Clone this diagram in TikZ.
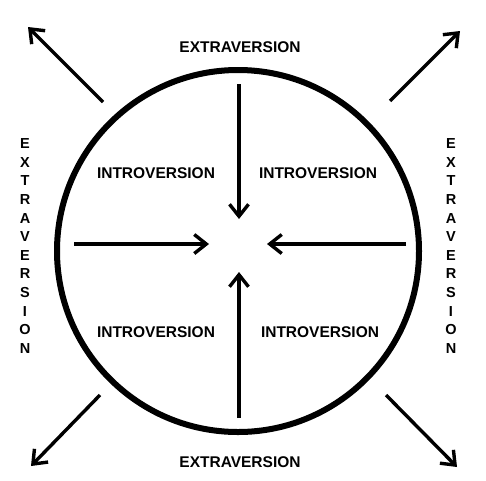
\documentclass[tikz,border=0pt]{standalone}
\usepackage{fontspec}
\setmainfont{Liberation Sans}
\usetikzlibrary{arrows.meta}

\tikzset{
  ring/.style={line width=6pt},
  push/.style={line width=3.4pt, -{Straight Barb[length=12pt,width=19pt,line width=3.4pt]}},
  word/.style={inner sep=0pt, font=\bfseries\fontsize{15.5}{18}\selectfont},
  upword/.style={inner sep=0pt, align=center, font=\bfseries\fontsize{14.5}{18.6}\selectfont}
}

\begin{document}
\begin{tikzpicture}[x=1pt,y=-1pt]
\useasboundingbox (0,0) rectangle (486,480);

\draw[ring] (238,251) circle (181);

% labels
\node[word] (extT) at (240,47) {EXTRAVERSION};
\node[word] (extB) at (240,462.5) {EXTRAVERSION};
\node[upword] (extL) at (25,246) {E\\X\\T\\R\\A\\V\\E\\R\\S\\I\\O\\N};
\node[upword] (extR) at (451,246) {E\\X\\T\\R\\A\\V\\E\\R\\S\\I\\O\\N};

\node[word] (intTL) at (156,173) {INTROVERSION};
\node[word] (intTR) at (318,173) {INTROVERSION};
\node[word] (intBL) at (156,332) {INTROVERSION};
\node[word] (intBR) at (320,332) {INTROVERSION};

% inward arrows
\coordinate (inT0) at (239,84);   \coordinate (inT1) at (239,219);
\coordinate (inB0) at (239,418);  \coordinate (inB1) at (239,272);
\coordinate (inL0) at (74,244);   \coordinate (inL1) at (209,244);
\coordinate (inR0) at (406,244);  \coordinate (inR1) at (267,244);
\draw[push] (inT0) -- (inT1);
\draw[push] (inB0) -- (inB1);
\draw[push] (inL0) -- (inL1);
\draw[push] (inR0) -- (inR1);

% outward arrows
\coordinate (outTL0) at (103,102); \coordinate (outTL1) at (28,27);
\coordinate (outTR0) at (390,101); \coordinate (outTR1) at (460,31);
\coordinate (outBL0) at (100,395); \coordinate (outBL1) at (31,466);
\coordinate (outBR0) at (386,395); \coordinate (outBR1) at (457,467);
\draw[push] (outTL0) -- (outTL1);
\draw[push] (outTR0) -- (outTR1);
\draw[push] (outBL0) -- (outBL1);
\draw[push] (outBR0) -- (outBR1);
\end{tikzpicture}
\end{document}
